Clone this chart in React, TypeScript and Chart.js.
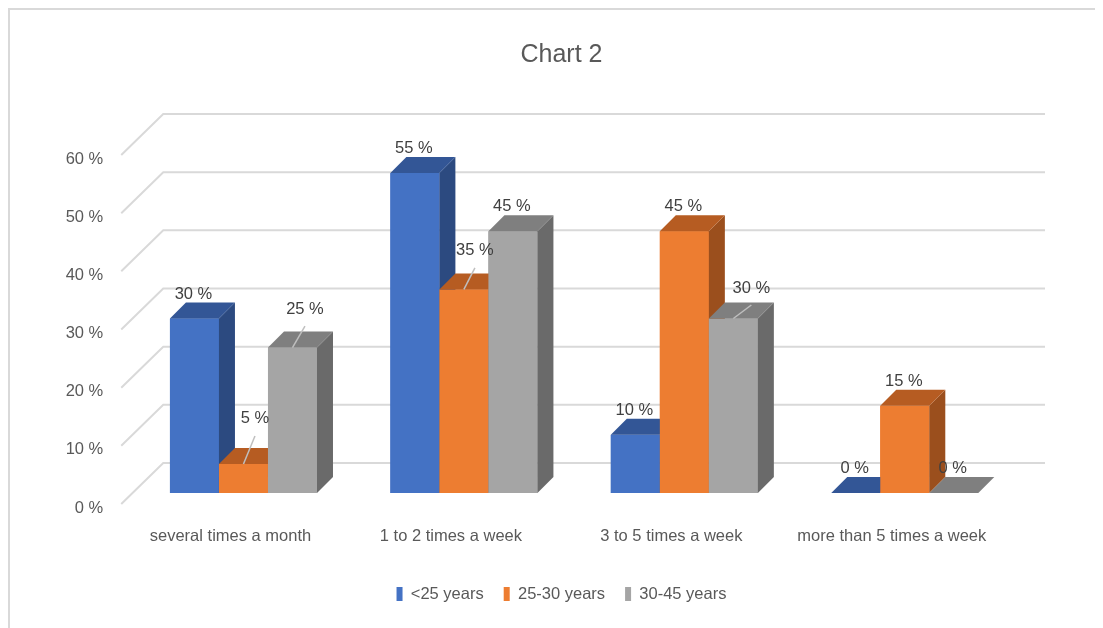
import { useEffect, useRef } from "react";
import { Chart, registerables } from "chart.js";

Chart.register(...registerables);

// Visit frequency by age group
const categories = [
  "several times a month",
  "1 to 2 times a week",
  "3 to 5 times a week",
  "more than 5 times a week",
];
const seriesNames = ["<25 years", "25-30 years", "30-45 years"];
const under25 = [30, 55, 10, 0];
const age25to30 = [5, 35, 45, 15];
const age30to45 = [25, 45, 30, 0];
const yTicks = [0, 10, 20, 30, 40, 50, 60];

const FONT = "'Liberation Sans', Arial, sans-serif";
const TEXT_SIZE = 16.5;
const AXIS_COLOR = "#595959";
const LABEL_COLOR = "#404040";
const GRID_COLOR = "#d9d9d9";

// front / top / side shading of each column series
const faces = [
  { front: "#4472c4", top: "#335696", side: "#2c4a80" },
  { front: "#ed7d31", top: "#b65c22", side: "#9b4f1d" },
  { front: "#a5a5a5", top: "#7f7f7f", side: "#6a6a6a" },
];

const BAR_DEPTH = 16; // oblique depth of each column
const WALL_DEPTH = 30; // back wall behind the column fronts
const FLOOR_FRONT_X = 12; // floor edge in front of the columns
const FLOOR_FRONT_Y = 11;

// data labels pulled away from their column, drawn with a leader line
const callouts: Record<string, [number, number]> = {
  "1-0": [11.5, -45],
  "2-0": [12.5, -38.5],
  "1-1": [11, -38.5],
  "2-2": [18, -30.5],
};

const pct = (v: number) => `${v} %`;

const perspectiveGrid = {
  id: "perspectiveGrid",
  beforeDatasetsDraw(chart: any) {
    const { ctx, chartArea, scales } = chart;
    const y = scales.y;
    ctx.save();
    ctx.strokeStyle = GRID_COLOR;
    ctx.lineWidth = 2;
    for (const t of y.ticks) {
      const py = y.getPixelForValue(t.value);
      ctx.beginPath();
      ctx.moveTo(chartArea.left - FLOOR_FRONT_X, py + FLOOR_FRONT_Y);
      ctx.lineTo(chartArea.left + WALL_DEPTH, py - WALL_DEPTH);
      ctx.lineTo(chartArea.right + WALL_DEPTH, py - WALL_DEPTH);
      ctx.stroke();
    }
    ctx.restore();
  },
};

function poly(ctx: CanvasRenderingContext2D, pts: number[][]) {
  ctx.beginPath();
  ctx.moveTo(pts[0][0], pts[0][1]);
  for (let i = 1; i < pts.length; i++) ctx.lineTo(pts[i][0], pts[i][1]);
  ctx.closePath();
  ctx.fill();
}

const columns3d = {
  id: "columns3d",
  afterDatasetsDraw(chart: any) {
    const ctx: CanvasRenderingContext2D = chart.ctx;
    const metas = chart.data.datasets.map((_: any, i: number) => chart.getDatasetMeta(i));
    const n = chart.data.labels.length;
    const D = BAR_DEPTH;
    ctx.save();
    for (let c = 0; c < n; c++) {
      metas.forEach((meta: any, d: number) => {
        const { x, y, base, width } = meta.data[c].getProps(["x", "y", "base", "width"], true);
        const x0 = x - width / 2;
        const x1 = x + width / 2;
        const f = faces[d];
        ctx.fillStyle = f.front;
        ctx.fillRect(x0, y, width, base - y);
        if (base - y > 0.5) {
          ctx.fillStyle = f.side;
          poly(ctx, [[x1, y], [x1 + D, y - D], [x1 + D, base - D], [x1, base]]);
        }
        ctx.fillStyle = f.top;
        poly(ctx, [[x0, y], [x0 + D, y - D], [x1 + D, y - D], [x1, y]]);
      });
    }

    ctx.font = `${TEXT_SIZE}px ${FONT}`;
    ctx.textAlign = "center";
    ctx.textBaseline = "middle";
    metas.forEach((meta: any, d: number) => {
      const values = chart.data.datasets[d].data;
      for (let c = 0; c < n; c++) {
        const { x, y } = meta.data[c].getProps(["x", "y"], true);
        const nudge = callouts[`${d}-${c}`];
        const cx = x + (nudge ? nudge[0] : -1);
        const cy = y + (nudge ? nudge[1] : -24.5);
        if (nudge) {
          ctx.strokeStyle = "#bfbfbf";
          ctx.lineWidth = 1.5;
          ctx.beginPath();
          ctx.moveTo(cx, cy + 17);
          ctx.lineTo(x, y);
          ctx.stroke();
        }
        ctx.fillStyle = LABEL_COLOR;
        ctx.fillText(pct(values[c]), cx, cy);
      }
    });
    ctx.restore();
  },
};

export default function App() {
  const ref = useRef<HTMLCanvasElement>(null);

  useEffect(() => {
    document.documentElement.style.overflow = "hidden";
    const tickFont = { size: TEXT_SIZE, family: FONT };
    const chart = new Chart(ref.current!, {
      type: "bar",
      data: {
        labels: categories,
        datasets: [under25, age25to30, age30to45].map((data, i) => ({
          label: seriesNames[i],
          data,
          backgroundColor: faces[i].front,
          borderWidth: 0,
          barPercentage: 1,
          categoryPercentage: 0.667,
        })),
      },
      options: {
        responsive: false,
        animation: false,
        events: [],
        layout: { padding: { left: 10, right: 0, top: 0, bottom: 15.75 } },
        plugins: {
          tooltip: { enabled: false },
          title: {
            display: true,
            text: "Chart 2",
            color: AXIS_COLOR,
            font: { size: 25, family: FONT, weight: "normal" },
            padding: { top: 30, bottom: 74 },
          },
          legend: {
            position: "bottom",
            labels: {
              boxWidth: 6,
              boxHeight: 14,
              padding: 20,
              color: AXIS_COLOR,
              font: tickFont,
            },
          },
        },
        scales: {
          x: {
            grid: { display: false, drawTicks: false },
            border: { display: false },
            ticks: {
              color: AXIS_COLOR,
              font: tickFont,
              padding: 34,
              labelOffset: -13,
              maxRotation: 0,
              autoSkip: false,
            },
            afterFit: (s: any) => {
              s.height = 72.75;
            },
          },
          y: {
            min: 0,
            max: 60,
            grid: { display: false, drawTicks: false },
            border: { display: false },
            afterBuildTicks: (s: any) => {
              s.ticks = yTicks.map((value) => ({ value }));
            },
            ticks: {
              color: AXIS_COLOR,
              font: tickFont,
              padding: 30,
              labelOffset: 15,
              callback: (v: any) => pct(Number(v)),
            },
            afterFit: (s: any) => {
              s.width = 113.25;
            },
          },
          yRight: {
            position: "right",
            grid: { display: false, drawTicks: false },
            border: { display: false },
            ticks: { display: false },
            afterFit: (s: any) => {
              s.width = 88;
            },
          },
        },
      },
      plugins: [perspectiveGrid, columns3d],
    });
    return () => chart.destroy();
  }, []);

  return (
    <div
      style={{
        width: 1095,
        height: 620,
        boxSizing: "border-box",
        borderTop: "2px solid #d9d9d9",
        borderLeft: "2px solid #d9d9d9",
        background: "#fff",
      }}
    >
      <canvas ref={ref} width={1093} height={618} style={{ display: "block", width: 1093, height: 618 }} />
    </div>
  );
}
